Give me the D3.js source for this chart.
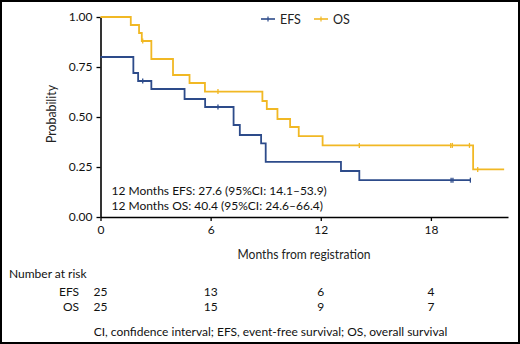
<!DOCTYPE html>
<html>
<head>
<meta charset="utf-8">
<script src="https://cdn.jsdelivr.net/npm/d3@7"></script>
<style>
  body { margin: 0; background: #fff; }
  svg { display: block; font-family: Lato, "Noto Sans", sans-serif; }
</style>
</head>
<body>
<svg id="chart" width="520" height="344"></svg>
<script>
// step data (months, probability)
const efsSteps = [[0, 0.80], [1.79, 0.72], [2.05, 0.68], [2.77, 0.64], [4.58, 0.59], [5.7, 0.55],
  [7.25, 0.46], [7.59, 0.41], [8.75, 0.368], [9.0, 0.276], [13.1, 0.23], [14.1, 0.184]];
const efsEnd = 20.15;
const efsCensor = [2.3, 6.4, 19.1, 19.2, 20.15];

const osSteps = [[0, 1.0], [1.65, 0.96], [2.1, 0.92], [2.25, 0.88], [2.77, 0.79], [3.95, 0.71],
  [4.85, 0.67], [5.69, 0.627], [8.82, 0.58], [9.06, 0.54], [9.64, 0.49], [10.33, 0.45],
  [10.8, 0.404], [12.1, 0.358], [20.3, 0.238]];
const osEnd = 21.99;
const osCensor = [2.3, 6.4, 14.1, 19.08, 19.17, 20.1, 20.55];

const xTicks = [0, 6, 12, 18];
const yTicks = [0, 0.25, 0.5, 0.75, 1];
const riskTimes = [0, 6, 12, 18];
const riskEFS = [25, 13, 6, 4];
const riskOS = [25, 15, 9, 7];
const notes = ["12 Months EFS: 27.6 (95%CI: 14.1\u201353.9)", "12 Months OS: 40.4 (95%CI: 24.6\u201366.4)"];

const blue = "#2d4b8a", gold = "#f1b824";

const svg = d3.select("#chart");

// frame round the figure
svg.append("rect").attr("x", 1).attr("y", 1).attr("width", 518).attr("height", 342)
  .attr("fill", "none").attr("stroke", "#000").attr("stroke-width", 2);

const x = d3.scaleLinear().domain([0, 22.2]).range([100.5, 508]);
const y = d3.scaleLinear().domain([0, 1]).range([217, 17]);

// axes
const gx = svg.append("g").attr("transform", "translate(0,217)")
  .call(d3.axisBottom(x).tickValues(xTicks).tickSize(4).tickSizeOuter(0).tickPadding(4));
const gy = svg.append("g").attr("transform", "translate(100.5,0)")
  .call(d3.axisLeft(y).tickValues(yTicks).tickFormat(d3.format(".2f")).tickSize(4).tickSizeOuter(0).tickPadding(4));
[gx, gy].forEach(g => {
  g.select(".domain").attr("stroke-width", 1.6);
  g.selectAll(".tick line").attr("stroke-width", 1.3);
  g.selectAll("text").attr("font-size", 12).attr("fill", "#111").attr("font-family", "Lato, sans-serif");
});

// axis titles are set in a narrow face in the original, squeeze them
svg.append("text").attr("transform", "translate(56,114) rotate(-90)")
  .attr("text-anchor", "middle").attr("font-size", 13).attr("fill", "#222")
  .attr("textLength", 58).attr("lengthAdjust", "spacingAndGlyphs")
  .text("Probability");

svg.append("text").attr("x", 304).attr("y", 259).attr("text-anchor", "middle")
  .attr("font-size", 14).attr("fill", "#222")
  .attr("textLength", 133).attr("lengthAdjust", "spacingAndGlyphs")
  .text("Months from registration");

// survival curves
const line = d3.line().x(d => x(d[0])).y(d => y(d[1])).curve(d3.curveStepAfter);

function drawCurve(steps, end, censor, color) {
  const pts = steps.concat([[end, steps[steps.length - 1][1]]]);
  svg.append("path").datum(pts).attr("d", line)
    .attr("fill", "none").attr("stroke", color).attr("stroke-width", 1.8);
  const probAt = t => {
    let p = steps[0][1];
    steps.forEach(s => { if (s[0] <= t) p = s[1]; });
    return p;
  };
  svg.append("g").selectAll("line").data(censor).join("line")
    .attr("x1", d => x(d)).attr("x2", d => x(d))
    .attr("y1", d => y(probAt(d)) - 2.5).attr("y2", d => y(probAt(d)) + 2.5)
    .attr("stroke", color).attr("stroke-width", 1.3);
}
drawCurve(osSteps, osEnd, osCensor, gold);
drawCurve(efsSteps, efsEnd, efsCensor, blue);

// legend
const legend = [{ name: "EFS", color: blue, x: 261 }, { name: "OS", color: gold, x: 314 }];
const lg = svg.append("g").selectAll("g").data(legend).join("g")
  .attr("transform", d => `translate(${d.x},19)`);
lg.append("line").attr("x1", 0).attr("x2", 14).attr("stroke", d => d.color).attr("stroke-width", 1.6);
lg.append("line").attr("x1", 7).attr("x2", 7).attr("y1", -2.5).attr("y2", 2.5)
  .attr("stroke", d => d.color).attr("stroke-width", 1.2);
lg.append("text").attr("x", 19).attr("y", 4.5).attr("font-size", 12.5).attr("fill", "#222")
  .text(d => d.name);

// 12-month estimates
svg.append("g").selectAll("text").data(notes).join("text")
  .attr("x", 111.5).attr("y", (d, i) => 195 + i * 14.6)
  .attr("font-size", 12).attr("fill", "#111").text(d => d);

// number at risk table
svg.append("text").attr("x", 9).attr("y", 277.5).attr("font-size", 12).attr("fill", "#111")
  .text("Number at risk");
const rows = [{ name: "EFS", vals: riskEFS, y: 295.5 }, { name: "OS", vals: riskOS, y: 311 }];
rows.forEach(r => {
  svg.append("text").attr("x", 79).attr("y", r.y).attr("text-anchor", "end")
    .attr("font-size", 12).attr("fill", "#111").text(r.name);
  svg.append("g").selectAll("text").data(r.vals).join("text")
    .attr("x", (d, i) => x(riskTimes[i])).attr("y", r.y).attr("text-anchor", "middle")
    .attr("font-size", 12).attr("fill", "#111").text(d => d);
});

svg.append("text").attr("x", 270.5).attr("y", 336).attr("text-anchor", "middle")
  .attr("font-size", 12).attr("fill", "#111")
  .text("CI, confidence interval; EFS, event-free survival; OS, overall survival");
</script>
</body>
</html>
